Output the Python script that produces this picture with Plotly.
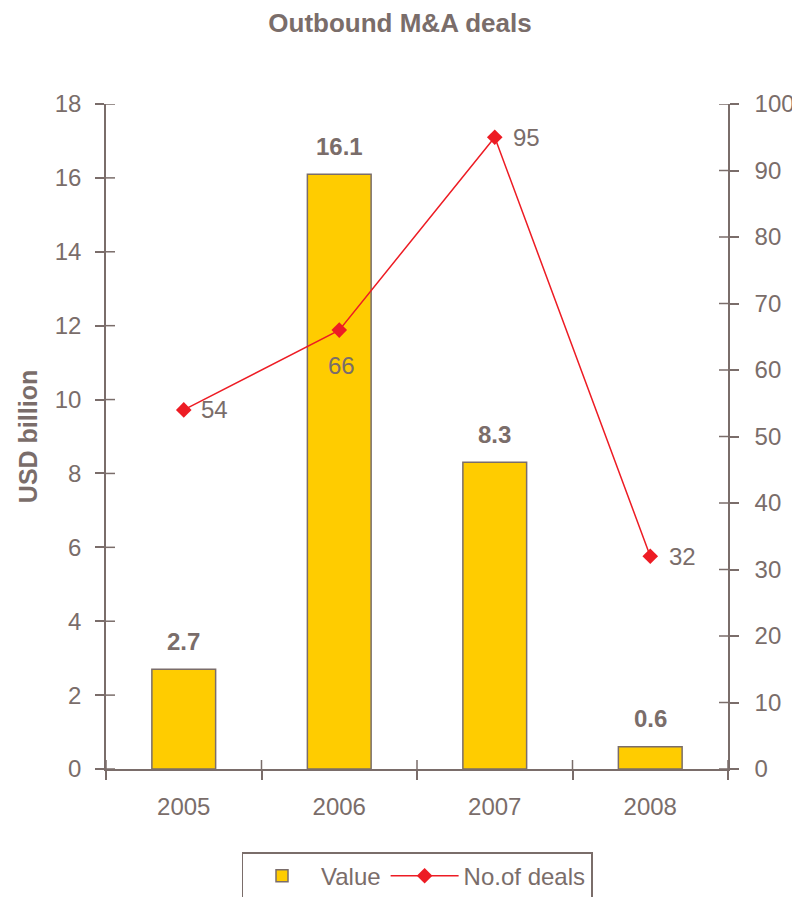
import plotly.graph_objects as go

years = ["2005", "2006", "2007", "2008"]
value_usd_bn = [2.7, 16.1, 8.3, 0.6]
no_of_deals = [54, 66, 95, 32]
left_ticks = [0, 2, 4, 6, 8, 10, 12, 14, 16, 18]
right_ticks = [0, 10, 20, 30, 40, 50, 60, 70, 80, 90, 100]

TXT = "#7a6d6a"
AX = "#7a6d6a"
GOLD = "#FFCC00"
RED = "#ED1C24"
FONT = "Liberation Sans, Arial, sans-serif"

fig = go.Figure()
fig.add_trace(go.Bar(
    x=years, y=value_usd_bn, name="Value",
    marker=dict(color=GOLD, line=dict(color=AX, width=1.5)),
    yaxis="y", hoverinfo="skip",
))
fig.add_trace(go.Scatter(
    x=years, y=no_of_deals, name="No.of deals", mode="lines+markers",
    line=dict(color=RED, width=1.5),
    marker=dict(symbol="diamond", size=12, color=RED),
    yaxis="y2", hoverinfo="skip",
))

annotations = []
for i, v in enumerate(value_usd_bn):
    annotations.append(dict(x=i, y=v, xref="x", yref="y", text=f"<b>{v}</b>",
                            showarrow=False, yshift=28,
                            font=dict(family=FONT, size=24, color=TXT)))
label_shift = [(31, 0), (2, -35), (32, 0), (32, 0)]
for i, n in enumerate(no_of_deals):
    xs, ys = label_shift[i]
    annotations.append(dict(x=i, y=n, xref="x", yref="y2", text=str(n),
                            showarrow=False, xshift=xs, yshift=ys,
                            font=dict(family=FONT, size=24, color=TXT)))

# inner halves of the crossing tick marks (axis decoration)
TL = 9
shapes = []
tick_line = dict(color=AX, width=1.5)
for t in left_ticks:
    shapes.append(dict(type="line", xref="x domain", yref="y", xsizemode="pixel",
                       xanchor=0, x0=0, x1=TL, y0=t, y1=t, line=tick_line))
for t in right_ticks:
    shapes.append(dict(type="line", xref="x domain", yref="y2", xsizemode="pixel",
                       xanchor=1, x0=-TL, x1=0, y0=t, y1=t, line=tick_line))
for i in range(len(years) + 1):
    shapes.append(dict(type="line", xref="x", yref="y domain", ysizemode="pixel",
                       yanchor=0, y0=0, y1=TL, x0=i - 0.5, x1=i - 0.5, line=tick_line))

axis_common = dict(showgrid=False, zeroline=False, linecolor=AX, linewidth=1.5,
                   tickcolor=AX, tickwidth=1.5, ticklen=TL,
                   tickfont=dict(family=FONT, size=24, color=TXT))

# page body adds an 8px offset; margins compensate
fig.update_layout(
    width=800, height=897,
    margin=dict(l=98, r=80, t=96, b=136, autoexpand=False),
    paper_bgcolor="white", plot_bgcolor="white",
    title=dict(text="<b>Outbound M&A deals</b>", x=0.49, xanchor="center",
               y=1 - 15 / 897, yanchor="middle",
               font=dict(family=FONT, size=26, color=TXT)),
    bargap=0.59,
    xaxis=dict(type="category", showline=True, ticks="outside", tickson="boundaries",
               range=[-0.5, 3.5], ticklabelstandoff=15, **axis_common),
    yaxis=dict(range=[0, 18], tickvals=left_ticks, showline=True, ticks="outside",
               ticklabelstandoff=9,
               title=dict(text="<b>USD billion</b>", standoff=10,
                          font=dict(family=FONT, size=25, color=TXT)),
               **axis_common),
    yaxis2=dict(range=[0, 100], tickvals=right_ticks, overlaying="y", side="right",
                anchor="x", showline=True, ticks="outside", ticklabelstandoff=11,
                **axis_common),
    showlegend=True,
    legend=dict(orientation="h", x=0.5, xanchor="center", y=-0.125, yanchor="top",
                bordercolor=AX, borderwidth=1.5, bgcolor="white",
                font=dict(family=FONT, size=24, color=TXT),
                itemwidth=68, traceorder="normal"),
    annotations=annotations,
    shapes=shapes,
)

fig.write_html("out.html")
